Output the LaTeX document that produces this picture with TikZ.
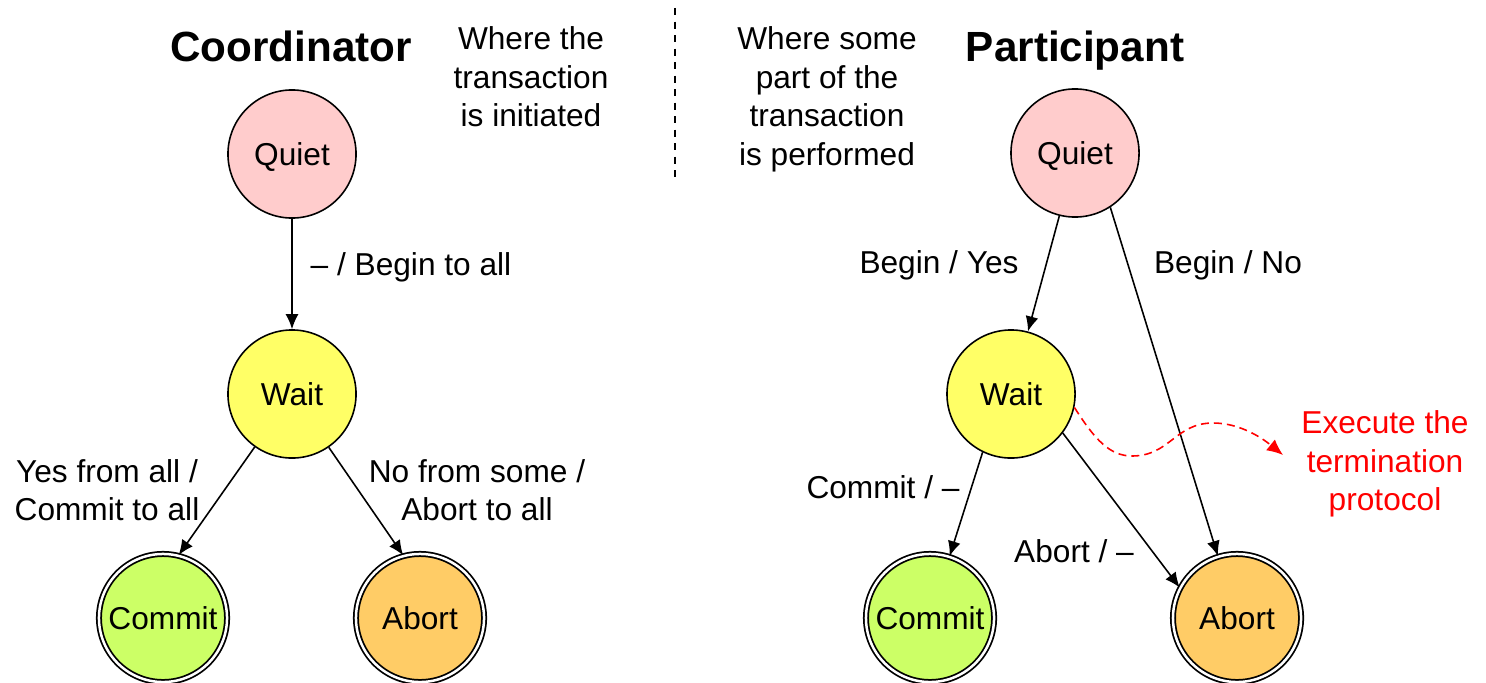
\documentclass[tikz,border=0pt]{standalone}
\usepackage{fontspec}
\setmainfont{Liberation Sans}
\usetikzlibrary{arrows.meta}

\definecolor{quietfill}{HTML}{FFCCCC}
\definecolor{waitfill}{HTML}{FFFF66}
\definecolor{commitfill}{HTML}{CCFF66}
\definecolor{abortfill}{HTML}{FFCC66}

\begin{document}
\begin{tikzpicture}[x=0.01cm, y=-0.01cm, font=\fontsize{9}{10.95}\selectfont]
                \useasboundingbox (0,0) rectangle (1486,682);

                % titles and notes
                \begin{scope}[every node/.style={align=center, inner sep=0, text depth=0pt}]
                        \node [font=\fontsize{12}{14}\selectfont\bfseries] (CT) at (291,46) {Coordinator};
                        \node [font=\fontsize{12}{14}\selectfont\bfseries] (PT) at (1075,46) {Participant};
                        \node (CN) at (531,77) {Where the\\transaction\\is initiated};
                        \node (PN) at (827,96) {Where some\\part of the\\transaction\\is performed};
                \end{scope}
                \draw [line width=0.5pt, dash pattern=on 0.07cm off 0.065cm] (675,8) -- (675,183);

                \begin{scope}[every node/.style={draw, circle, line width=0.45pt, minimum size=1.28cm, inner sep=0, text depth=0pt}]
                        \node [fill=quietfill] (cQuiet) at (292,154) {Quiet};
                        \node [fill=waitfill] (cWait) at (292,394) {Wait};
                        \node [fill=commitfill, double, double distance=0.025cm, line width=0.5pt] (cCommit) at (163,618) {Commit};
                        \node [fill=abortfill, double, double distance=0.025cm, line width=0.5pt] (cAbort) at (420,618) {Abort};
                        \node [fill=quietfill] (pQuiet) at (1075,153) {Quiet};
                        \node [fill=waitfill] (pWait) at (1011,394) {Wait};
                        \node [fill=commitfill, double, double distance=0.025cm, line width=0.5pt] (pCommit) at (930,618) {Commit};
                        \node [fill=abortfill, double, double distance=0.025cm, line width=0.5pt] (pAbort) at (1237,618) {Abort};
                \end{scope}

                \begin{scope}[every path/.style={line width=0.45pt, -{Latex[length=0.15cm, width=0.13cm]}}]
                        \path (cQuiet) edge (cWait);
                        \path (cWait) edge (cCommit.76);
                        \path (cWait) edge (cAbort.105);
                        \path (pQuiet.-104) edge (pWait);
                        \path (pQuiet.-57) edge (pAbort);
                        \path (pWait.-116) edge (pCommit);
                        \path (pWait.-37) edge (pAbort.152);
                \end{scope}

                % termination protocol
                \coordinate (pTerm) at (1283,455);
                \draw [red, line width=0.45pt, dash pattern=on 0.08cm off 0.05cm, -{Latex[length=0.16cm, width=0.14cm]}]
                        (pWait.-12) .. controls (1095,440) and (1110,456) .. (1132,456)
                        .. controls (1170,456) and (1175,423) .. (1213,423)
                        .. controls (1240,423) and (1262,438) .. (pTerm);

                % edge labels
                \begin{scope}[every node/.style={align=center, inner sep=0, text depth=0pt}]
                        \node (cBeginL) at (411,264) {– / Begin to all};
                        \node (cYesL) at (107,490) {Yes from all /\\Commit to all};
                        \node (cNoL) at (477,490) {No from some /\\Abort to all};
                        \node (pYesL) at (939,262) {Begin / Yes};
                        \node (pNoL) at (1228,262) {Begin / No};
                        \node (pCommitL) at (883,487) {Commit / –};
                        \node (pAbortL) at (1074,551) {Abort / –};
                        \node [text=red] (pTermL) at (1385,461) {Execute the\\termination\\protocol};
                \end{scope}
\end{tikzpicture}
\end{document}
